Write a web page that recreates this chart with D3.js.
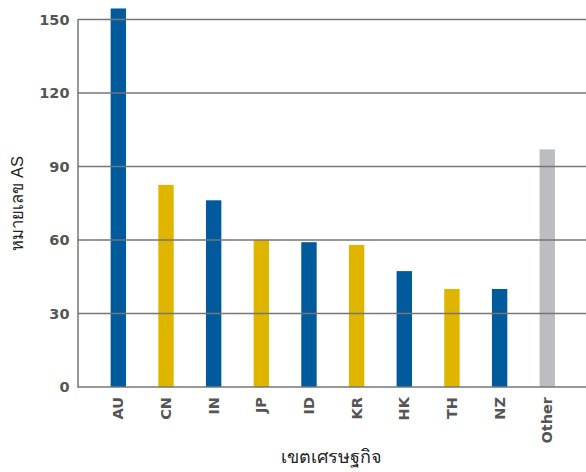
<!DOCTYPE html>
<html><head><meta charset="utf-8">
<script src="https://cdn.jsdelivr.net/npm/d3@7"></script>
<style>body{margin:0;background:#fff}</style>
</head><body>
<script>
const categories = ["AU","CN","IN","JP","ID","KR","HK","TH","NZ","Other"];
const values = [154.5, 82.5, 76.2, 60, 59.1, 58.0, 47.3, 40, 40, 97];
const colorGroups = ["blue","gold","blue","gold","blue","gold","blue","gold","blue","grey"];
const yTicks = [0,30,60,90,120,150];
const palette = {blue:"#005a9c", gold:"#e0b500", grey:"#bcbdc1"};

const W=586,H=472;
const svg=d3.select("body").append("svg").attr("width",W).attr("height",H);
const x0=77.5, x1=586, yB=387, yT=19.5;
const x=d3.scaleBand().domain(categories).range([94.5,571.1]).paddingInner(0.677).paddingOuter(0.3385);
const y=d3.scaleLinear().domain([0,150]).range([yB,yT]);

// bars
svg.append("g").selectAll("rect").data(categories).join("rect")
  .attr("x",d=>x(d)).attr("width",x.bandwidth())
  .attr("y",(d,i)=>y(values[i])).attr("height",(d,i)=>yB-y(values[i]))
  .attr("fill",(d,i)=>palette[colorGroups[i]]);

// gridlines on top
svg.append("g").selectAll("line").data(yTicks.filter(t=>t>0)).join("line")
  .attr("x1",x0).attr("x2",x1).attr("y1",d=>y(d)).attr("y2",d=>y(d))
  .attr("stroke","#767676").attr("stroke-width",1.5);

// y axis
const ya=svg.append("g").attr("transform",`translate(${x0},0)`)
  .call(d3.axisLeft(y).tickValues(yTicks).tickSize(0).tickPadding(8));
ya.select(".domain").attr("stroke","#767676").attr("stroke-width",1.5);
ya.selectAll("text").attr("font-family","DejaVu Sans").attr("font-weight","bold")
  .attr("font-size",14.5).attr("fill","#555");

// x axis
const xa=svg.append("g").attr("transform",`translate(0,${yB})`)
  .call(d3.axisBottom(x).tickSize(0).tickPadding(0));
xa.select(".domain").remove();
svg.append("line").attr("x1",x0).attr("x2",x1).attr("y1",yB).attr("y2",yB)
  .attr("stroke","#767676").attr("stroke-width",1.5);
xa.selectAll("text").attr("font-family","DejaVu Sans").attr("font-weight","bold")
  .attr("font-size",14.5).attr("fill","#555")
  .attr("transform","rotate(-90)").attr("text-anchor","end")
  .attr("dy","0.35em").attr("x",-10).attr("y",0);

// titles
svg.append("text").attr("transform",`translate(23,${(yB+yT)/2}) rotate(-90)`)
  .attr("text-anchor","middle").attr("font-family","sans-serif").attr("font-size",16.5)
  .attr("font-weight","300").attr("fill","#222").text("หมายเลข AS");
svg.append("text").attr("x",(x0+x1)/2).attr("y",463)
  .attr("text-anchor","middle").attr("font-family","sans-serif").attr("font-size",18)
  .attr("font-weight","300").attr("fill","#222").text("เขตเศรษฐกิจ");
</script>
</body></html>
